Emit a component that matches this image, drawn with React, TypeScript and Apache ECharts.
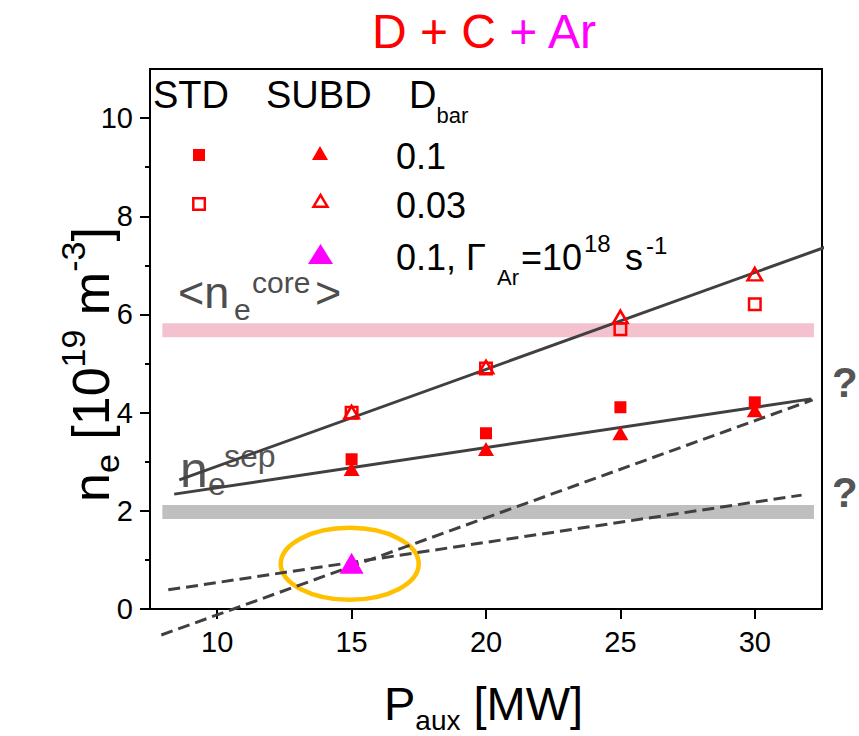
import React, { useEffect, useRef } from "react";
import * as echarts from "echarts";

const FONT = "'Liberation Sans', Arial, Helvetica, sans-serif";
const RED = "#ff0000";
const MAGENTA = "#ff00ff";
const DARK = "#404040";

// ---- axis ticks ----
const xTicks = [10, 15, 20, 25, 30];
const yTicks = [0, 2, 4, 6, 8, 10];
const yMinorTicks = [1, 3, 5, 7, 9];

// ---- measured points [P_aux (MW), n_e (1e19 m^-3)] ----
const stdD01 = [[15, 3.05], [20, 3.58], [25, 4.11], [30, 4.21]];
const stdD003 = [[15, 4.0], [20, 4.9], [25, 5.7], [30, 6.21]];
const subdD01 = [[15, 2.85], [20, 3.26], [25, 3.58], [30, 4.05]];
const subdD003 = [[15, 4.01], [20, 4.93], [25, 5.95], [30, 6.82]];
const subdAr = [[15, 0.93]];

// ---- fit / guide lines ----
const fitD003 = [[8.59, 2.63], [32.82, 7.41]];
const fitD01 = [[8.4, 2.34], [32.1, 4.28]];
const dashSteep = [[7.92, -0.53], [32.15, 4.26]];
const dashShallow = [[8.18, 0.39], [31.74, 2.32]];

// ---- reference bands ----
const coreBand = [[7.96, 5.68], [32.2, 5.68]];
const sepBand = [[7.96, 1.975], [32.2, 1.975]];

// ---- highlighted point ----
const highlight = [[14.93, 0.92]];

let _ctx: CanvasRenderingContext2D | null = null;
function textWidth(t: string, size: number, bold?: boolean) {
  if (!_ctx) _ctx = document.createElement("canvas").getContext("2d");
  if (!_ctx) return t.length * size * 0.55;
  _ctx.font = `${bold ? "bold " : ""}${size}px ${FONT}`;
  return _ctx.measureText(t).width;
}

type Part = { t: string; s: number; x?: number; dy?: number; c?: string; b?: boolean };

function textRun(parts: Part[], x0: number, base0: number, color: string, z = 10) {
  const out: any[] = [];
  let cx = x0;
  for (const p of parts) {
    const x = p.x ?? cx;
    const base = base0 + (p.dy ?? 0);
    out.push({
      type: "text",
      x,
      y: base - 0.3465 * p.s,
      z,
      silent: true,
      style: {
        text: p.t,
        fontSize: p.s,
        fontFamily: FONT,
        fontWeight: p.b ? "bold" : "normal",
        fill: p.c ?? color,
        align: "left",
        verticalAlign: "middle",
        textAlign: "left",
        textVerticalAlign: "middle",
      },
    });
    cx = x + textWidth(p.t, p.s, p.b);
  }
  return out;
}

export default function App() {
  const ref = useRef<HTMLDivElement>(null);

  useEffect(() => {
    document.body.style.margin = "0";
    if (!ref.current) return;
    const chart = echarts.init(ref.current, null, { renderer: "svg" });

    const lineSeries = (data: number[][], dashed: boolean, z = 3) => ({
      type: "line",
      data,
      symbol: "none",
      showSymbol: false,
      clip: false,
      silent: true,
      z,
      lineStyle: { color: DARK, width: 3, type: dashed ? [12, 6] : "solid", cap: "butt" },
    });
    const bandSeries = (data: number[][], color: string) => ({
      type: "line",
      data,
      symbol: "none",
      showSymbol: false,
      clip: false,
      silent: true,
      z: 1,
      lineStyle: { color, width: 14, cap: "butt" },
    });

    const graphics: any[] = [
      // title
      ...textRun(
        [
          { t: "D + C ", s: 48, c: RED },
          { t: "+ Ar", s: 48, c: MAGENTA },
        ],
        372,
        48,
        RED
      ),
      // x-axis title
      ...textRun(
        [
          { t: "P", s: 47 },
          { t: "aux", s: 28, dy: 10 },
          { t: " [MW]", s: 47 },
        ],
        384,
        720,
        "#000"
      ),
      // y-axis title (rotated)
      {
        type: "group",
        x: 109,
        y: 502,
        rotation: Math.PI / 2,
        children: textRun(
          [
            { t: "n", s: 52 },
            { t: "e", s: 34, dy: 10 },
            { t: " [10", s: 52 },
            { t: "19", s: 34, dy: -24 },
            { t: " m", s: 52 },
            { t: "-3", s: 34, dy: -24 },
            { t: "]", s: 52 },
          ],
          0,
          0,
          "#000"
        ),
      },
      // legend headers
      ...textRun([{ t: "STD", s: 38 }], 153, 108, "#000"),
      ...textRun([{ t: "SUBD", s: 38 }], 266, 108, "#000"),
      ...textRun(
        [
          { t: "D", s: 38 },
          { t: "bar", s: 22, dy: 15 },
        ],
        409,
        108,
        "#000"
      ),
      ...textRun([{ t: "0.1", s: 36 }], 396, 169, "#000"),
      ...textRun([{ t: "0.03", s: 36 }], 396, 218, "#000"),
      ...textRun(
        [
          { t: "0.1,", s: 36, x: 396 },
          { t: "Γ", s: 36, x: 466 },
          { t: "Ar", s: 22, x: 497, dy: 15 },
          { t: "=10", s: 36, x: 521 },
          { t: "18", s: 24, x: 584, dy: -18 },
          { t: "s", s: 36, x: 625 },
          { t: "-1", s: 24, x: 646, dy: -16 },
        ],
        396,
        270,
        "#000"
      ),
      // legend markers
      { type: "rect", z: 10, shape: { x: 193, y: 149, width: 12, height: 12 }, style: { fill: RED } },
      {
        type: "rect",
        z: 10,
        shape: { x: 193.3, y: 198.3, width: 11.5, height: 11.5 },
        style: { fill: "none", stroke: RED, lineWidth: 2.5 },
      },
      {
        type: "polygon",
        z: 10,
        shape: { points: [[312, 160], [328, 160], [320, 146]] },
        style: { fill: RED },
      },
      {
        type: "polygon",
        z: 10,
        shape: { points: [[313.5, 206.7], [327.5, 206.7], [320.5, 195]] },
        style: { fill: "none", stroke: RED, lineWidth: 2.5 },
      },
      {
        type: "polygon",
        z: 10,
        shape: { points: [[308, 264], [333, 264], [320.5, 244]] },
        style: { fill: MAGENTA },
      },
      // annotations
      ...textRun(
        [
          { t: "<n", s: 45 },
          { t: "e", s: 30, x: 234, dy: 12 },
          { t: "core", s: 30, x: 252, dy: -15 },
          { t: ">", s: 45, x: 315 },
        ],
        178,
        308,
        "#4d4d4d",
        0
      ),
      ...textRun(
        [
          { t: "n", s: 50 },
          { t: "e", s: 32, x: 208, dy: 8 },
          { t: "sep", s: 32, x: 224, dy: -20 },
        ],
        180,
        487,
        "#555555",
        0
      ),
      ...textRun([{ t: "?", s: 42, b: true }], 832, 397, "#555555"),
      ...textRun([{ t: "?", s: 42, b: true }], 832, 507, "#555555"),
    ];

    chart.setOption({
      animation: false,
      backgroundColor: "#ffffff",
      grid: {
        left: 150,
        right: 37,
        top: 69,
        bottom: 127,
        show: true,
        borderColor: "#000",
        borderWidth: 2,
        backgroundColor: "transparent",
      },
      xAxis: {
        type: "value",
        min: 7.5,
        max: 32.5,
        axisLine: { show: true, lineStyle: { color: "#000", width: 2 } },
        axisTick: { show: true, customValues: xTicks, length: 10, lineStyle: { color: "#000", width: 2 } },
        axisLabel: { customValues: xTicks, fontSize: 29, color: "#000", fontFamily: FONT, margin: 18 },
        splitLine: { show: false },
      },
      yAxis: [
        {
          type: "value",
          min: 0,
          max: 11,
          position: "left",
          axisLine: { show: true, lineStyle: { color: "#000", width: 2 } },
          axisTick: { show: true, customValues: yTicks, length: 10, lineStyle: { color: "#000", width: 2 } },
          axisLabel: { customValues: yTicks, fontSize: 29, color: "#000", fontFamily: FONT, margin: 17 },
          splitLine: { show: false },
        },
        {
          type: "value",
          min: 0,
          max: 11,
          position: "left",
          offset: 0,
          axisLine: { show: false },
          axisTick: { show: true, customValues: yMinorTicks, length: 5, lineStyle: { color: "#000", width: 2 } },
          axisLabel: { show: false },
          splitLine: { show: false },
        },
      ],
      graphic: { elements: graphics },
      series: [
        bandSeries(coreBand, "#f4c2cf"),
        bandSeries(sepBand, "#bfbfbf"),
        {
          type: "custom",
          coordinateSystem: "cartesian2d",
          data: highlight,
          clip: false,
          silent: true,
          z: 2,
          renderItem: (params: any, api: any) => {
            const p = api.coord([api.value(0), api.value(1)]);
            return {
              type: "ellipse",
              shape: { cx: p[0], cy: p[1], rx: 69, ry: 36 },
              style: { fill: "none", stroke: "#ffc000", lineWidth: 4.5 },
            };
          },
        },
        lineSeries(fitD003, false),
        lineSeries(fitD01, false),
        lineSeries(dashSteep, true),
        lineSeries(dashShallow, true),
        {
          type: "scatter",
          data: stdD01,
          symbol: "rect",
          symbolSize: 12,
          z: 4,
          itemStyle: { color: RED, opacity: 1 },
        },
        {
          type: "scatter",
          data: stdD003,
          symbol: "rect",
          symbolSize: 11.5,
          z: 4,
          itemStyle: { color: "rgba(0,0,0,0)", borderColor: RED, borderWidth: 2.5, opacity: 1 },
        },
        {
          type: "scatter",
          data: subdD01,
          symbol: "triangle",
          symbolSize: [16, 14],
          z: 4,
          itemStyle: { color: RED, opacity: 1 },
        },
        {
          type: "scatter",
          data: subdD003,
          symbol: "triangle",
          symbolSize: [14.5, 12.5],
          z: 4,
          itemStyle: { color: "rgba(0,0,0,0)", borderColor: RED, borderWidth: 2.5, opacity: 1 },
        },
        {
          type: "scatter",
          data: subdAr,
          symbol: "triangle",
          symbolSize: [24, 21],
          z: 4,
          itemStyle: { color: MAGENTA, opacity: 1 },
        },
      ],
    });

    return () => chart.dispose();
  }, []);

  return (
    <div
      ref={ref}
      style={{ position: "fixed", left: 0, top: 0, width: 859, height: 736, background: "#fff" }}
    />
  );
}
